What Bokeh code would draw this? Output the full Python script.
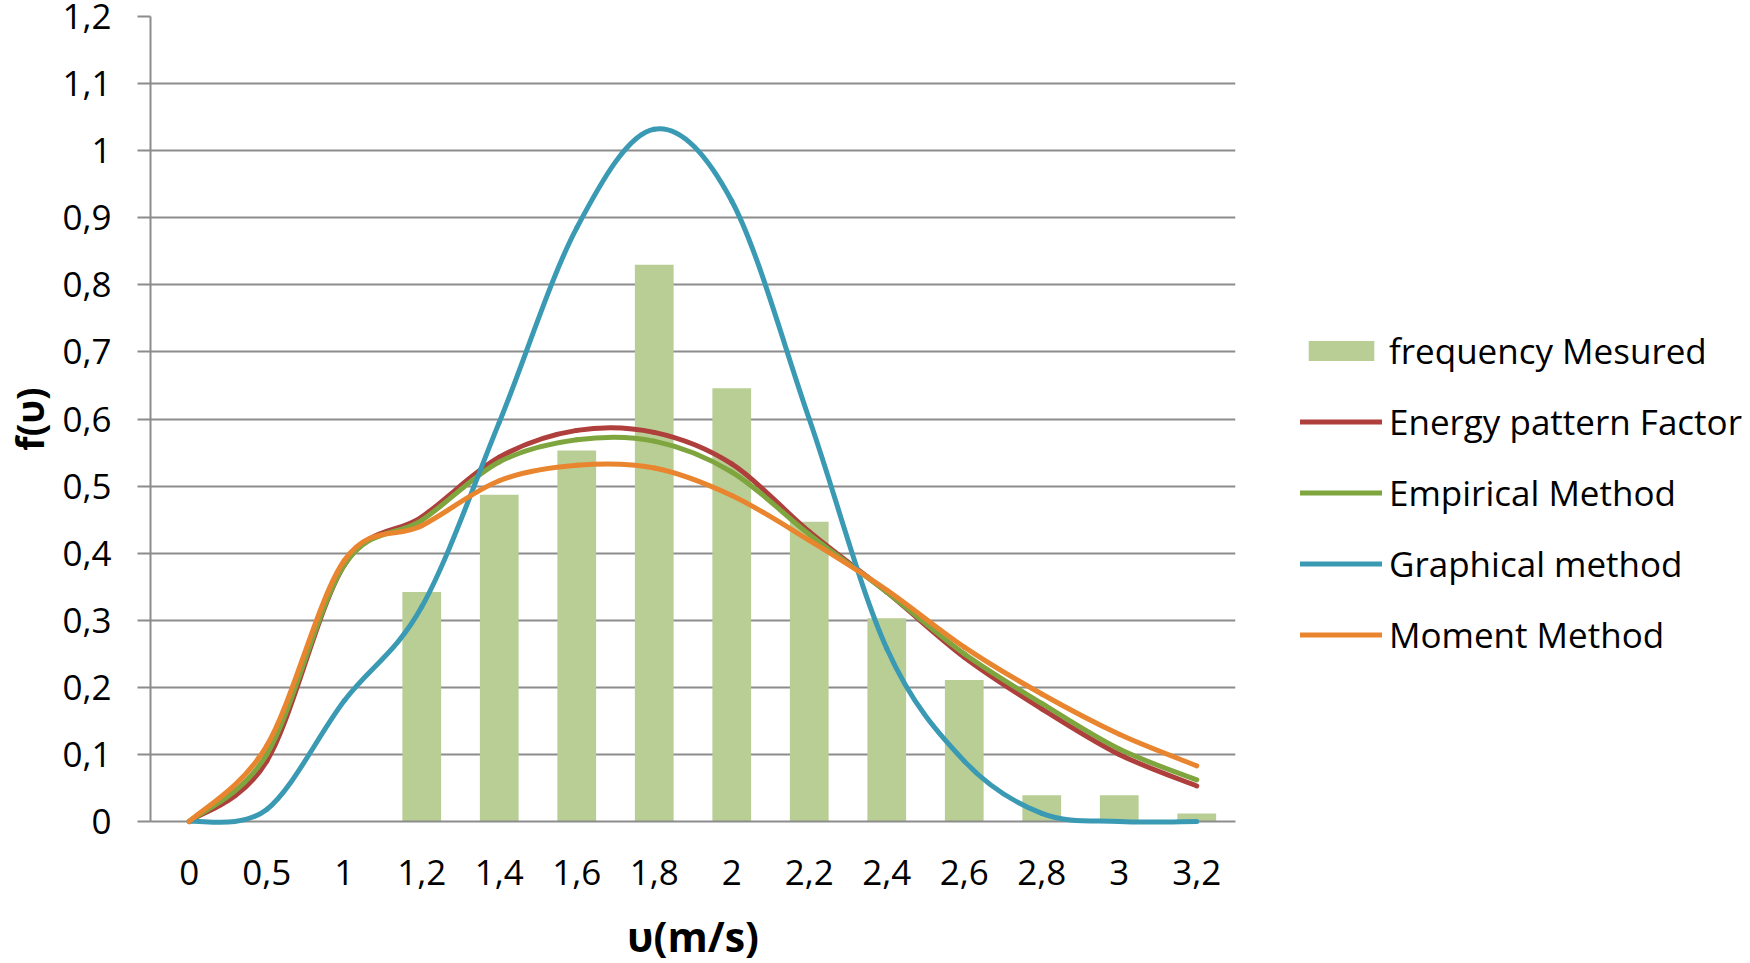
from bokeh.plotting import figure
from bokeh.models import Range1d, FixedTicker, Legend, LegendItem, ColumnDataSource
from bokeh.embed import file_html
from bokeh.resources import INLINE

# ---------------- data ----------------
categories = ["0", "0,5", "1", "1,2", "1,4", "1,6", "1,8", "2", "2,2", "2,4", "2,6", "2,8", "3", "3,2"]
freq_measured = [None, None, None, 0.342, 0.487, 0.553, 0.830, 0.646, 0.447, 0.303, 0.211, 0.039, 0.039, 0.012]
energy_pattern = [0.0, 0.090, 0.382, 0.454, 0.543, 0.583, 0.580, 0.533, 0.432, 0.342, 0.245, 0.168, 0.100, 0.053]
empirical = [0.0, 0.100, 0.382, 0.449, 0.536, 0.569, 0.567, 0.521, 0.428, 0.342, 0.250, 0.176, 0.108, 0.062]
graphical = [0.0, 0.018, 0.180, 0.320, 0.595, 0.885, 1.032, 0.925, 0.600, 0.258, 0.090, 0.012, 0.0, 0.0]
moment = [0.0, 0.113, 0.389, 0.441, 0.508, 0.531, 0.527, 0.486, 0.419, 0.345, 0.260, 0.190, 0.130, 0.083]

y_ticks = [0, 0.1, 0.2, 0.3, 0.4, 0.5, 0.6, 0.7, 0.8, 0.9, 1.0, 1.1, 1.2]
y_tick_labels = ["0", "0,1", "0,2", "0,3", "0,4", "0,5", "0,6", "0,7", "0,8", "0,9", "1", "1,1", "1,2"]

series_names = ["frequency Mesured", "Energy pattern Factor", "Empirical Method", "Graphical method", "Moment Method"]

# ---------------- style ----------------
FONT = "Open Sans"
TICK_SIZE = "35px"
XTITLE_SIZE = "41px"
YTITLE_SIZE = "37px"
GRID = "#8C8C8C"
C_BAR = "#B9CE95"
C_RED = "#AE3F3C"
C_GREEN = "#7FA53F"
C_BLUE = "#3A9AB4"
C_ORANGE = "#E9852F"

x_index = list(range(len(categories)))


def smooth_segments(xs, ys):
    """Cubic Bezier segments through the data points (Excel-like smoothing)."""
    n = len(xs)
    d = dict(x0=[], y0=[], x1=[], y1=[], cx0=[], cy0=[], cx1=[], cy1=[])
    for i in range(n - 1):
        ip, ia, ib, inx = max(i - 1, 0), i, i + 1, min(i + 2, n - 1)
        d["x0"].append(xs[ia]); d["y0"].append(ys[ia])
        d["x1"].append(xs[ib]); d["y1"].append(ys[ib])
        d["cx0"].append(xs[ia] + (xs[ib] - xs[ip]) / 6.0)
        d["cy0"].append(ys[ia] + (ys[ib] - ys[ip]) / 6.0)
        d["cx1"].append(xs[ib] - (xs[inx] - xs[ia]) / 6.0)
        d["cy1"].append(ys[ib] - (ys[inx] - ys[ia]) / 6.0)
    return ColumnDataSource(d)


p = figure(frame_width=1085, frame_height=805,
           x_range=Range1d(-0.5, len(categories) - 0.5),
           y_range=Range1d(0, 1.2),
           output_backend="svg", toolbar_location=None,
           min_border_left=150, min_border_right=515,
           min_border_top=16, min_border_bottom=130)
p.outline_line_color = None
p.background_fill_color = "white"
p.border_fill_color = "white"

# grid
p.xgrid.visible = False
p.ygrid.ticker = FixedTicker(ticks=y_ticks)
p.ygrid.grid_line_color = GRID
p.ygrid.grid_line_width = 2

# y axis
ya = p.yaxis[0]
ya.ticker = FixedTicker(ticks=y_ticks)
ya.major_label_overrides = dict(zip(y_ticks, y_tick_labels))
ya.major_tick_out = 13
ya.major_tick_in = 0
ya.minor_tick_out = 0
ya.minor_tick_in = 0
ya.axis_line_color = GRID
ya.axis_line_width = 2
ya.major_tick_line_color = GRID
ya.major_tick_line_width = 2
ya.major_label_standoff = 26
ya.major_label_text_font = FONT
ya.major_label_text_font_size = TICK_SIZE
ya.major_label_text_color = "black"
ya.axis_label = "f(υ)"
ya.axis_label_text_font = FONT
ya.axis_label_text_font_style = "bold"
ya.axis_label_text_font_size = YTITLE_SIZE
ya.axis_label_text_color = "black"
ya.axis_label_standoff = 4

# x axis
xa = p.xaxis[0]
xa.ticker = FixedTicker(ticks=x_index)
xa.major_label_overrides = dict(zip(x_index, categories))
xa.major_tick_out = 0
xa.major_tick_in = 0
xa.minor_tick_out = 0
xa.minor_tick_in = 0
xa.axis_line_color = GRID
xa.axis_line_width = 2
xa.major_label_standoff = 38
xa.major_label_text_font = FONT
xa.major_label_text_font_size = TICK_SIZE
xa.major_label_text_color = "black"
xa.axis_label = "υ(m/s)"
xa.axis_label_text_font = FONT
xa.axis_label_text_font_style = "bold"
xa.axis_label_text_font_size = XTITLE_SIZE
xa.axis_label_text_color = "black"
xa.axis_label_standoff = 20

# bars
bar_x = [i for i, v in zip(x_index, freq_measured) if v is not None]
bar_top = [v for v in freq_measured if v is not None]
bars = p.vbar(x=bar_x, top=bar_top, bottom=0, width=0.5, fill_color=C_BAR, line_color=None)

# smooth lines
line_renderers = []
for ys, col in [(energy_pattern, C_RED), (empirical, C_GREEN), (graphical, C_BLUE), (moment, C_ORANGE)]:
    r = p.bezier(x0="x0", y0="y0", x1="x1", y1="y1", cx0="cx0", cy0="cy0", cx1="cx1", cy1="cy1",
                 source=smooth_segments(x_index, ys), line_color=col, line_width=5, line_cap="round")
    r.level = "overlay"
    line_renderers.append(r)

legend = Legend(items=[LegendItem(label=n, renderers=[r])
                       for n, r in zip(series_names, [bars] + line_renderers)],
                location=(65, 163), orientation="vertical",
                glyph_width=82, glyph_height=25, label_height=25, spacing=24,
                label_standoff=7, padding=0, margin=0,
                border_line_color=None, background_fill_alpha=0,
                label_text_font=FONT, label_text_font_size=TICK_SIZE, label_text_color="black")
p.add_layout(legend, "right")

open("out.html", "w").write(file_html(p, INLINE))
